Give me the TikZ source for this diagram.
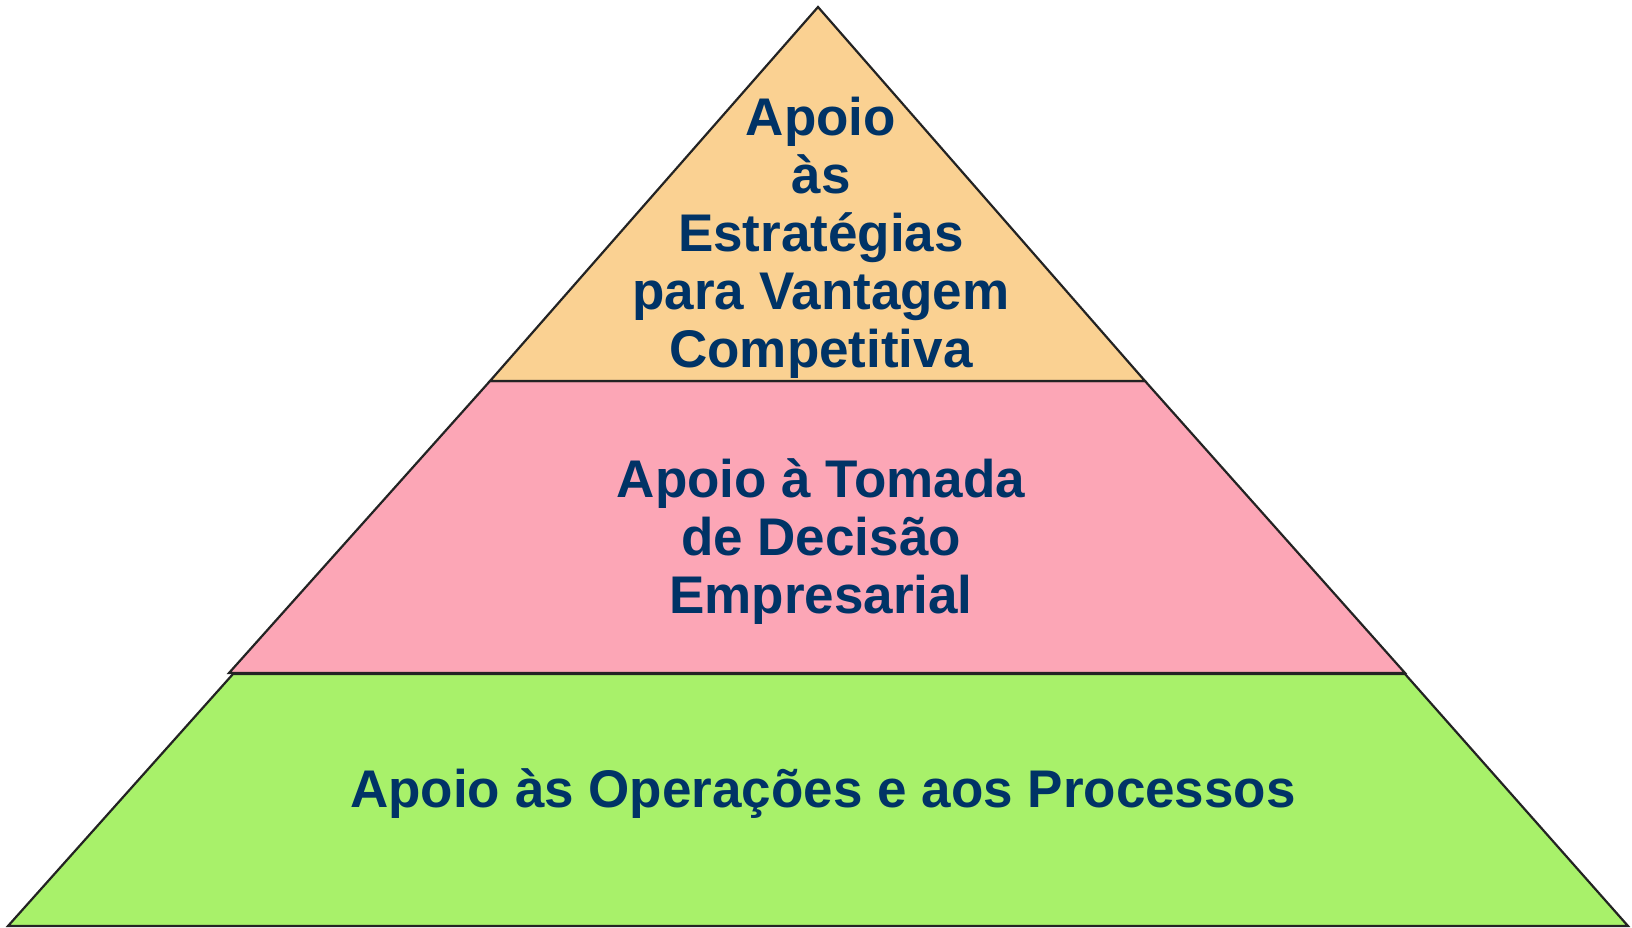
\documentclass[tikz,border=0pt]{standalone}
\usepackage{fontspec}
\setmainfont{Liberation Sans}
\definecolor{topc}{RGB}{250,209,146}
\definecolor{midc}{RGB}{252,166,182}
\definecolor{botc}{RGB}{168,241,106}
\definecolor{txtc}{RGB}{0,51,102}
\definecolor{edgec}{RGB}{35,35,35}
\tikzset{
  band/.style={draw=edgec, line width=2.2pt, line join=miter},
  lbl/.style={text=txtc, font=\fontsize{53}{57.8}\selectfont\bfseries, align=center, anchor=base, inner sep=0pt}
}
\begin{document}
\begin{tikzpicture}[x=1pt,y=-1pt]
\useasboundingbox (0,0) rectangle (1632,927);
\path[band, fill=botc] (233,674) -- (1405,674) -- (1628,926) -- (8,926) -- cycle;
\path[band, fill=midc] (490,381) -- (1145,381) -- (1405,673) -- (229,673) -- cycle;
\path[band, fill=topc] (818,7) -- (1145,381) -- (490,381) -- cycle;
\node[lbl] (top) at (821,367) {Apoio\\às\\Estratégias\\para Vantagem\\Competitiva};
\node[lbl] (mid) at (821,613) {Apoio à Tomada\\de Decisão\\Empresarial};
\node[lbl] (bot) at (823,807) {Apoio às Operações e aos Processos};
\end{tikzpicture}
\end{document}
